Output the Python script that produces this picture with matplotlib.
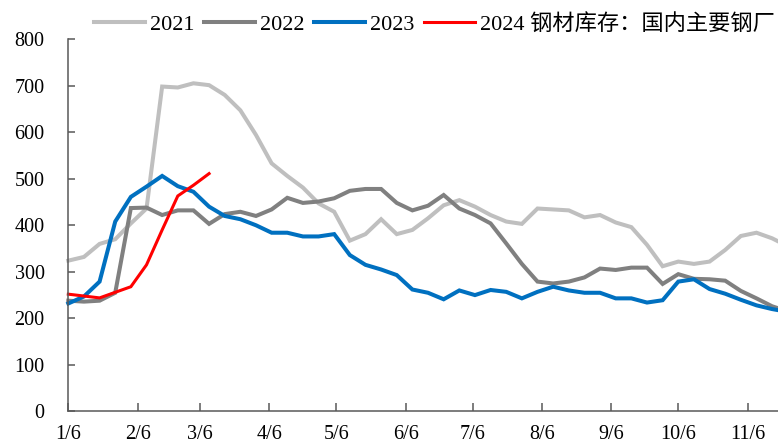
import matplotlib
matplotlib.use("Agg")
import matplotlib.pyplot as plt
import pandas as pd

plt.rcParams["font.family"] = ["Liberation Serif", "Noto Sans CJK SC"]

# weekly inventory (x axis: day of year, first week = 1/6)
v2021 = [324, 332, 360, 370, 404, 436, 698, 696, 705, 701, 680, 647, 594, 533,
         506, 481, 447, 429, 367, 381, 413, 381, 390, 415, 443, 454, 440, 422,
         408, 403, 436, 434, 432, 417, 422, 406, 396, 358, 312, 322, 317, 322,
         347, 377, 384, 372, 355]
v2022 = [238, 236, 238, 255, 437, 438, 422, 432, 432, 403, 424, 429, 420, 434,
         459, 448, 451, 458, 474, 478, 478, 448, 432, 442, 465, 436, 422, 404,
         361, 317, 279, 275, 279, 288, 307, 304, 309, 309, 274, 295, 285, 284,
         281, 259, 243, 226, 215]
v2023 = [232, 247, 279, 408, 461, 483, 506, 484, 472, 440, 420, 413, 400, 384,
         384, 376, 376, 381, 336, 315, 305, 293, 262, 255, 241, 260, 250, 261,
         257, 243, 257, 268, 260, 255, 255, 243, 243, 234, 239, 279, 284, 263,
         253, 240, 228, 220, 214]
v2024 = [252, 248, 244, 256, 268, 315, 390, 463, 486, 511]

series = [
    ("2021", v2021, "#bfbfbf", 2.9),
    ("2022", v2022, "#808080", 2.9),
    ("2023", v2023, "#0070c0", 2.9),
    ("2024 钢材库存：国内主要钢厂", v2024, "#ff0000", 2.2),
]

months = list(range(1, 12))
tick_dates = [pd.Timestamp(2023, m, 6) for m in months]
tick_labels = [f"{m}/6" for m in months]

fig = plt.figure(figsize=(7.78, 4.46), dpi=100)
ax = fig.add_axes([0.0878, 0.0774, 1.031, 0.835])

for name, vals, color, lw in series:
    x = pd.date_range("2023-01-06", periods=len(vals), freq="7D")
    ax.plot(x, vals, color=color, lw=lw, label=name, solid_joinstyle="miter",
            clip_on=False)

ax.set_xlim(pd.Timestamp(2023, 1, 6), pd.Timestamp(2023, 12, 31))
ax.set_ylim(0, 800)
ax.set_yticks(range(0, 801, 100))
ax.set_xticks(tick_dates)
ax.set_xticklabels(tick_labels)

for s in ("top", "right"):
    ax.spines[s].set_visible(False)
for s in ("left", "bottom"):
    ax.spines[s].set_color("#595959")
    ax.spines[s].set_linewidth(1.1)
ax.tick_params(axis="y", direction="in", length=5, width=1.1, color="#595959",
               labelsize=14.5, pad=17)
ax.tick_params(axis="x", direction="in", length=6, width=1.1, color="#595959",
               labelsize=14.5, pad=10)

fig.legend(loc="center left", bbox_to_anchor=(0.121, 0.946), ncol=4,
           frameon=False, fontsize=16, handlelength=2.3, handletextpad=0.2,
           columnspacing=0.45, borderaxespad=0, borderpad=0)

fig.savefig("out.png", dpi=100)
